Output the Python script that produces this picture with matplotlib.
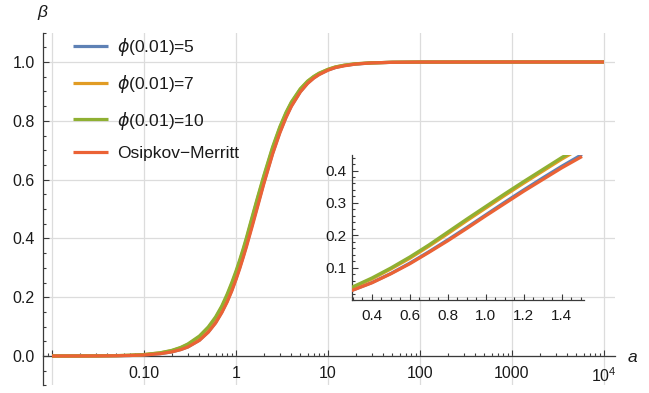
import numpy as np
import matplotlib
matplotlib.use("Agg")
import matplotlib.pyplot as plt
from matplotlib.ticker import MultipleLocator, LogLocator, NullFormatter, FixedLocator, FixedFormatter

plt.rcParams['font.family'] = ['Liberation Sans', 'DejaVu Sans']
plt.rcParams['mathtext.fontset'] = 'dejavusans'

# ---------------- data ----------------
a_vals = [0.01, 0.02, 0.03, 0.05, 0.07, 0.1, 0.15, 0.2, 0.25, 0.3, 0.4, 0.5, 0.6, 0.7,
          0.8, 0.9, 1.0, 1.1, 1.2, 1.3, 1.4, 1.5, 1.7, 2.0, 2.5, 3.0, 3.5, 4.0, 5.0,
          6.0, 7.0, 8.0, 10, 12, 15, 20, 30, 50, 100, 1000, 10000]

beta_phi5 = [0.0, 0.0001, 0.0003, 0.0009, 0.0017, 0.0036, 0.0080, 0.0142, 0.022, 0.031,
             0.054, 0.082, 0.114, 0.149, 0.186, 0.224, 0.263, 0.302, 0.340, 0.377, 0.413,
             0.447, 0.508, 0.588, 0.690, 0.762, 0.813, 0.851, 0.899, 0.928, 0.946, 0.958,
             0.973, 0.981, 0.988, 0.993, 0.997, 0.9989, 0.9997, 1.0, 1.0]

beta_phi7 = [0.0, 0.0002, 0.0005, 0.0013, 0.0024, 0.0048, 0.0105, 0.018, 0.028, 0.039,
             0.065, 0.096, 0.129, 0.166, 0.205, 0.245, 0.284, 0.323, 0.361, 0.398, 0.435,
             0.469, 0.531, 0.608, 0.707, 0.777, 0.826, 0.862, 0.907, 0.934, 0.950, 0.961,
             0.975, 0.983, 0.989, 0.994, 0.997, 0.999, 0.9997, 1.0, 1.0]

beta_phi10 = [0.0, 0.0002, 0.0005, 0.0013, 0.0025, 0.0050, 0.011, 0.019, 0.029, 0.041,
              0.068, 0.099, 0.133, 0.170, 0.210, 0.250, 0.289, 0.328, 0.366, 0.403, 0.440,
              0.474, 0.535, 0.612, 0.711, 0.780, 0.829, 0.864, 0.909, 0.935, 0.951, 0.962,
              0.975, 0.983, 0.989, 0.994, 0.997, 0.999, 0.9997, 1.0, 1.0]

beta_om = [0.0, 0.0001, 0.0003, 0.0009, 0.0017, 0.0035, 0.0078, 0.0139, 0.0215, 0.0306,
           0.053, 0.081, 0.112, 0.147, 0.183, 0.221, 0.260, 0.298, 0.336, 0.372, 0.408,
           0.441, 0.503, 0.584, 0.687, 0.759, 0.811, 0.849, 0.898, 0.927, 0.945, 0.957,
           0.972, 0.981, 0.987, 0.993, 0.997, 0.9989, 0.9997, 1.0, 1.0]

series_labels = [r'$\phi$(0.01)=5', r'$\phi$(0.01)=7', r'$\phi$(0.01)=10', 'Osipkov\u2212Merritt']
series_values = [beta_phi5, beta_phi7, beta_phi10, beta_om]
colors = ['#5E81B5', '#E19C24', '#8FB032', '#EB6235']

x_major = [0.01, 0.1, 1, 10, 100, 1000, 10000]
x_major_labels = ['', '0.10', '1', '10', '100', '1000', r'$\mathregular{10^4}$']
y_major = [0.0, 0.2, 0.4, 0.6, 0.8, 1.0]
y_major_labels = ['0.0', '0.2', '0.4', '0.6', '0.8', '1.0']

inset_range = (0.3, 1.5)
inset_x_major = [0.4, 0.6, 0.8, 1.0, 1.2, 1.4]
inset_y_major = [0.1, 0.2, 0.3, 0.4]

# ---------------- figure ----------------
W, H = 649, 393
fig = plt.figure(figsize=(W / 100, H / 100), dpi=100)
axis_col = '#3a3a3a'
grid_col = '#dcdcdc'
txt_col = '#1a1a1a'
fs_tick = 11.5

ax = fig.add_axes([43 / W, 1 - 385.4 / H, 572 / W, (385.4 - 32.6) / H])
ax.set_xscale('log')
ax.set_xlim(10 ** -2.098, 10 ** 4.12)
ax.set_ylim(-0.1, 1.1)

a_arr = np.array(a_vals)
for lab, vals, c in zip(series_labels, series_values, colors):
    ax.plot(a_arr, vals, color=c, lw=2.3, label=lab, zorder=3, solid_capstyle='butt')

for s in ['top', 'right']:
    ax.spines[s].set_visible(False)
ax.spines['bottom'].set_position(('data', 0))
for s in ['bottom', 'left']:
    ax.spines[s].set_color(axis_col)
    ax.spines[s].set_linewidth(0.9)
    ax.spines[s].set_zorder(2.5)

ax.xaxis.set_major_locator(FixedLocator(x_major))
ax.xaxis.set_major_formatter(FixedFormatter(x_major_labels))
ax.xaxis.set_minor_locator(LogLocator(base=10, subs=np.arange(2, 10), numticks=30))
ax.xaxis.set_minor_formatter(NullFormatter())
ax.yaxis.set_major_locator(FixedLocator(y_major))
ax.yaxis.set_major_formatter(FixedFormatter(y_major_labels))
ax.yaxis.set_minor_locator(MultipleLocator(0.05))

ax.tick_params(which='both', direction='in', color=axis_col, width=0.8, labelsize=fs_tick,
               labelcolor=txt_col)
ax.tick_params(which='major', length=4.2)
ax.tick_params(which='minor', length=2.3)
ax.tick_params(axis='x', which='major', pad=7.5)
ax.tick_params(axis='y', which='major', pad=6)

ax.grid(True, which='major', color=grid_col, lw=0.9, zorder=0)

leg = ax.legend(loc='upper left', bbox_to_anchor=(73 / W, 1 - 36 / H),
                bbox_transform=fig.transFigure, frameon=False, borderpad=0,
                borderaxespad=0, handlelength=2.0, handletextpad=0.52,
                labelspacing=0.85, fontsize=12.5)
for t in leg.get_texts():
    t.set_color(txt_col)

fig.text(42 / W, 1 - 12 / H, '\u03b2', style='italic', fontsize=12.5, ha='center',
         va='center', color=txt_col)
fig.text(632 / W, 1 - 358 / H, 'a', style='italic', fontsize=12.5, ha='center',
         va='center', color=txt_col)

# ---------------- inset ----------------
ax2 = fig.add_axes([352 / W, 1 - 300 / H, 232 / W, 145 / H])
ax2.patch.set_alpha(0)
mask = (a_arr >= inset_range[0]) & (a_arr <= inset_range[1])
for vals, c in zip(series_values, colors):
    ax2.plot(a_arr[mask], np.array(vals)[mask], color=c, lw=2.3, zorder=3)
ax2.set_xlim(0.295, 1.518)
ax2.set_ylim(0.0, 0.448)
for s in ['top', 'right']:
    ax2.spines[s].set_visible(False)
for s in ['bottom', 'left']:
    ax2.spines[s].set_color(axis_col)
    ax2.spines[s].set_linewidth(0.9)
ax2.xaxis.set_major_locator(FixedLocator(inset_x_major))
ax2.xaxis.set_major_formatter(FixedFormatter(['%.1f' % v for v in inset_x_major]))
ax2.xaxis.set_minor_locator(MultipleLocator(0.05))
ax2.yaxis.set_major_locator(FixedLocator(inset_y_major))
ax2.yaxis.set_major_formatter(FixedFormatter(['%.1f' % v for v in inset_y_major]))
ax2.yaxis.set_minor_locator(MultipleLocator(0.02))
ax2.tick_params(which='both', direction='in', color=axis_col, width=0.8, labelsize=11,
                labelcolor=txt_col)
ax2.tick_params(which='major', length=4.2)
ax2.tick_params(which='minor', length=2.3)
ax2.tick_params(axis='x', which='major', pad=6.5)
ax2.tick_params(axis='y', which='major', pad=4)

fig.savefig('out.png', dpi=100)
